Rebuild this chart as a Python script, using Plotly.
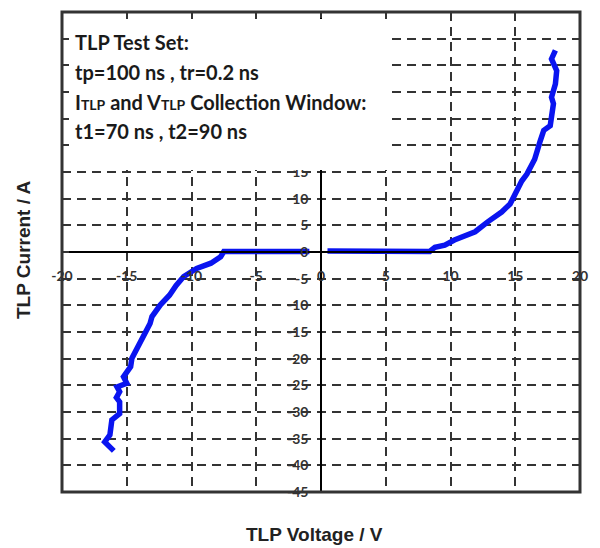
import plotly.graph_objects as go

# ---- data ----
v_neg = [-0.9, -3.0, -5.0, -7.0, -7.5, -7.75, -8.5, -9.6, -10.6, -11.2, -11.7, -12.4,
         -13.05, -13.2, -13.6, -14.0, -14.3, -14.6, -14.7, -15.25, -15.0, -15.75,
         -15.55, -15.8, -15.55, -15.55, -16.15, -16.3, -16.7, -16.0]
i_neg = [0.1, 0.1, 0.1, 0.15, 0.1, -0.9, -2.1, -3.1, -4.6, -6.3, -8.1, -9.9,
         -12.1, -13.4, -15.3, -16.8, -18.4, -19.9, -21.5, -23.4, -24.6, -25.3,
         -26.2, -27.3, -28.1, -30.3, -31.5, -34.3, -35.6, -37.3]

v_pos = [0.5, 2.0, 3.9, 4.5, 6.0, 7.5, 8.4, 8.8, 9.56, 10.3, 11.1, 11.9, 12.9,
         13.95, 14.6, 15.0, 15.2, 15.5, 15.9, 16.5, 16.9, 17.2, 17.7, 17.8, 17.95,
         17.8, 18.1, 18.2, 17.8, 18.1]
i_pos = [0.2, 0.2, 0.15, 0.0, -0.05, -0.05, 0.1, 0.9, 1.3, 2.25, 3.0, 3.8, 5.7,
         7.5, 9.0, 10.9, 12.1, 13.3, 14.6, 17.4, 20.6, 22.8, 23.7, 26.5, 27.8,
         29.0, 31.5, 34.0, 36.2, 37.8]

x_ticks = [-20, -15, -10, -5, 0, 5, 10, 15, 20]
x_tick_text = ["-20", "-15", "-10", "-5", "0", "5", "10", "15", "20"]
y_ticks = [-45, -40, -35, -30, -25, -20, -15, -10, -5, 0, 5, 10, 15, 20, 25, 30, 35, 40, 45]
# labels 20..40 sit under the info box in the reference, so they are left blank
y_tick_text = ["-45", "-40", "-35", "-30", "-25", "-20", "-15", "-10", "-5", "0",
               "5", "10", "15", "", "", "", "", "", "45"]

info_lines = [
    "TLP Test Set:",
    "tp=100 ns , tr=0.2 ns",
    "I<span style='font-size:14px'>TLP</span> and V<span style='font-size:14px'>TLP</span> Collection Window:",
    "t1=70 ns , t2=90 ns",
]

x_title = "TLP Voltage / V"
y_title = "TLP Current / A"

XR = [-20, 20]
YR = [-45, 45]

# page offset: the browser's default body margin (8px) shifts the figure
OFF = 8
PW, PH = 518, 480          # plot area size
PL, PT = 62, 12            # plot area top-left on the page

fig = go.Figure()
curve_color = "#0a14f0"
fig.add_trace(go.Scatter(x=v_neg, y=i_neg, mode="lines",
                         line=dict(color=curve_color, width=5.5), showlegend=False))
fig.add_trace(go.Scatter(x=v_pos, y=i_pos, mode="lines",
                         line=dict(color=curve_color, width=5.5), showlegend=False))
# dummy trace to activate frame-tick axes
fig.add_trace(go.Scatter(x=[None], y=[None], xaxis="x2", yaxis="y2",
                         showlegend=False, hoverinfo="skip"))

grid_kw = dict(showgrid=True, gridcolor="#333333", gridwidth=1.5, griddash="9px,6px")
tick_font = dict(family="Lato, Open Sans, sans-serif", size=14, color="#333333", weight="bold")

fig.update_layout(
    width=600 - OFF, height=548 - OFF,
    margin=dict(l=PL - OFF, r=600 - PL - PW, t=PT - OFF, b=548 - PT - PH, autoexpand=False),
    paper_bgcolor="white", plot_bgcolor="white",
    xaxis=dict(range=XR, anchor="free", position=0.5, automargin=False,
               tickmode="array", tickvals=x_ticks, ticktext=x_tick_text,
               showline=True, linecolor="black", linewidth=1.5,
               ticks="", ticklabelstandoff=11, tickfont=tick_font,
               zeroline=False, **grid_kw),
    yaxis=dict(range=YR, anchor="free", position=0.5, automargin=False,
               tickmode="array", tickvals=y_ticks, ticktext=y_tick_text,
               showline=True, linecolor="black", linewidth=1.5,
               ticks="", ticklabelstandoff=9, tickfont=tick_font,
               zeroline=False, **grid_kw),
    xaxis2=dict(range=XR, overlaying="x", side="top", anchor="y2", automargin=False,
                tickvals=x_ticks[1:-1], ticks="inside", ticklen=6, tickwidth=1.5,
                tickcolor="#333333", showticklabels=False, showgrid=False,
                zeroline=False, showline=False),
    yaxis2=dict(range=YR, overlaying="y", side="left", anchor="free", position=0,
                automargin=False,
                tickvals=y_ticks[1:-1], ticks="inside", ticklen=6, tickwidth=1.5,
                tickcolor="#333333", showticklabels=False, showgrid=False,
                zeroline=False, showline=False),
)

shapes = [
    # white box hiding grid behind the info text
    dict(type="rect", xref="paper", yref="paper", layer="above",
         x0=7 / PW, x1=(388 - PL) / PW, y0=(PT + PH - 170) / PH, y1=(PT + PH - 19) / PH,
         line=dict(width=0), fillcolor="white"),
    # outer frame
    dict(type="rect", xref="paper", yref="paper", layer="above",
         x0=0, x1=1, y0=0, y1=1, line=dict(color="#333333", width=3)),
]
fig.update_layout(shapes=shapes)

ann = []
line_py = [42, 72, 102, 131]
for txt, py in zip(info_lines, line_py):
    ann.append(dict(text=txt, xref="paper", yref="paper",
                    x=(73 - PL) / PW, y=(PT + PH - py) / PH,
                    xanchor="left", yanchor="middle", showarrow=False,
                    font=dict(family="Lato, Open Sans, sans-serif", size=20,
                              color="#1a1a1a", weight="bold")))
ann.append(dict(text="<b>" + x_title + "</b>", xref="paper", yref="paper",
                x=(314 - PL) / PW, y=(PT + PH - 534) / PH, xanchor="center", yanchor="middle",
                showarrow=False,
                font=dict(family="Liberation Sans, Arial, sans-serif", size=19, color="#222222")))
ann.append(dict(text="<b>" + y_title + "</b>", xref="paper", yref="paper",
                x=(23 - PL) / PW, y=(PT + PH - 250) / PH, xanchor="center", yanchor="middle",
                textangle=-90, showarrow=False,
                font=dict(family="Liberation Sans, Arial, sans-serif", size=19, color="#222222")))
fig.update_layout(annotations=ann)

fig.write_html("out.html")
